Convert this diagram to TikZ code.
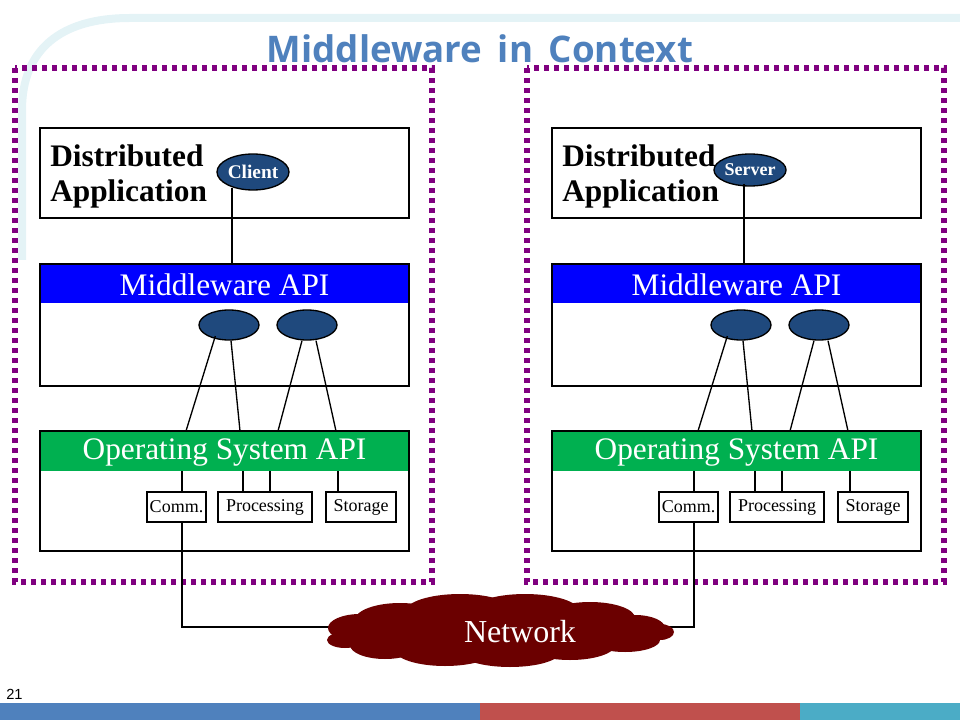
\documentclass[tikz,border=0pt]{standalone}
\usepackage{fontspec}
\setmainfont{Liberation Serif}
\newfontfamily\titlefont{Open Sans}
\newfontfamily\numfont{Liberation Sans}
\usetikzlibrary{shapes.geometric}
\definecolor{ttl}{HTML}{4F81BD}
\definecolor{bred}{HTML}{C0504D}
\definecolor{bteal}{HTML}{4BACC6}
\definecolor{purp}{HTML}{800080}
\definecolor{ell}{HTML}{1F497D}
\definecolor{mw}{HTML}{0000FF}
\definecolor{osg}{HTML}{00B050}
\definecolor{net}{HTML}{6B0000}
\begin{document}
\begin{tikzpicture}[x=0.75pt,y=-0.75pt,
  box/.style={draw,line width=2pt},
  dots/.style={draw=purp,line width=4pt,dash pattern=on 4pt off 3.5pt},
  eln/.style={ellipse,draw=black,line width=1pt,fill=ell,inner sep=0pt},
  sm/.style={draw,line width=1.2pt,fill=white,inner sep=0pt,minimum height=22.5pt,font=\fontsize{13.5}{14}\selectfont},
  hdr/.style={font=\fontsize{23.5}{26}\selectfont,text=white},
  ln/.style={line width=1pt}]
\useasboundingbox (0,0) rectangle (960,720);
% decorative arc
\draw[color=bteal!15,line width=6pt] (22,260) -- (22,110) .. controls (22,50) and (60,18) .. (130,18) -- (960,18);
% title
\node (title) at (480,49) {\titlefont\bfseries\fontsize{27.5}{30}\selectfont\color{ttl}Middleware\, in\, Context};
% bottom bar
\fill[ttl] (0,703) rectangle (480,720);
\fill[bred] (480,703) rectangle (800,720);
\fill[bteal] (800,703) rectangle (960,720);
\node[anchor=south west,inner sep=0pt] (num) at (6,700) {\numfont\fontsize{11}{12}\selectfont 21};
\foreach \dx/\nm in {0/L,512/R}{
  \begin{scope}[xshift=\dx*0.75pt]
  \draw[dots] (15,68) rectangle (432,582);
  \draw[box] (40,128) rectangle (409,218);
  \node[anchor=north west,align=left,inner sep=0pt,font=\bfseries\fontsize{23.5}{26.5}\selectfont] (da\nm) at (50,144) {Distributed\\Application};
  \fill[mw] (40,264) rectangle (409,303);
  \draw[box] (40,264) rectangle (409,386);
  \node[hdr] (mh\nm) at (224.5,285) {Middleware API};
  \fill[osg] (40,431) rectangle (409,471);
  \draw[box] (40,431) rectangle (409,551);
  \node[hdr] (oh\nm) at (224.5,453) {Operating System API};
  \node[eln,minimum width=45pt,minimum height=22.5pt] (ea\nm) at (229,325) {};
  \node[eln,minimum width=45pt,minimum height=22.5pt] (eb\nm) at (307,325) {};
  \node[sm,minimum width=44.25pt] (cm\nm) at (176.5,507) {Comm.};
  \node[sm,minimum width=70.5pt] (pr\nm) at (265,507) {Processing};
  \node[sm,minimum width=52.5pt] (st\nm) at (361,507) {Storage};
  \draw[ln] (ea\nm.south west) ++(8,0) -- (186,431);
  \draw[ln] (ea\nm.south) ++(2,0) -- (240,431);
  \draw[ln] (eb\nm.south) ++(-5,0) -- (278,431);
  \draw[ln] (eb\nm.south) ++(9,0) -- (336,431);
  \draw[ln] (182,471) -- (182,492);
  \draw[ln] (243,471) -- (243,492);
  \draw[ln] (270,471) -- (270,492);
  \draw[ln] (338,471) -- (338,492);
  \end{scope}
}
\node[eln,minimum width=54pt,minimum height=27pt,text=white,font=\bfseries\fontsize{14.5}{15}\selectfont] (cl) at (253,172) {Client};
\node[eln,minimum width=48pt,minimum height=24pt,text=white,font=\bfseries\fontsize{13.5}{14}\selectfont] (sv) at (750,170) {Server};
\draw[ln] (232,188) -- (232,264);
\draw[ln] (744,184) -- (744,264);
% network connectors
\coordinate (nl) at (345,627);
\coordinate (nr) at (660,627);
\draw[ln] (cmL.south) ++(5.5,0) |- (nl);
\draw[ln] (cmR.south) ++(5.5,0) |- (nr);
% network cloud
\foreach \cx/\cy/\rx/\ry in {360/628/32/14, 400/620/45/17, 460/612/55/18, 525/612/55/18, 590/618/45/16, 635/628/30/13,
  345/640/18/8, 385/645/35/14, 445/650/50/16, 510/652/50/15, 570/645/45/15, 625/640/35/12, 660/632/14/8, 500/632/140/24}
  \fill[net] (\cx,\cy) ellipse[x radius=\rx*0.75pt,y radius=\ry*0.75pt];
\node[ellipse,minimum width=240pt,minimum height=42pt,text=white,font=\fontsize{24}{26}\selectfont] (netw) at (520,632) {Network};
\end{tikzpicture}
\end{document}
